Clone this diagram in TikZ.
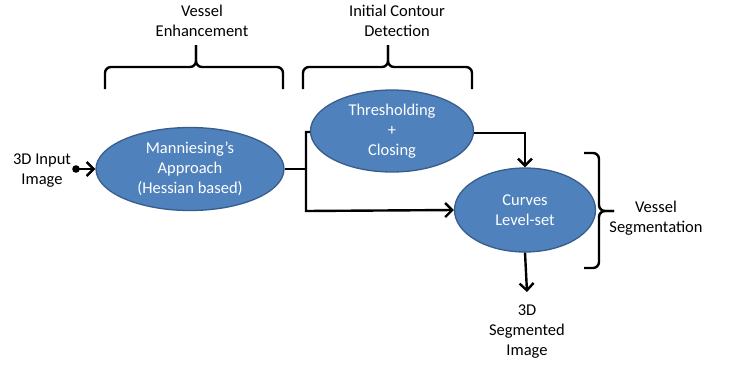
\documentclass[tikz,border=0pt]{standalone}
\usepackage{fontspec}
\setmainfont{Carlito}
\usetikzlibrary{shapes.geometric,arrows.meta}
\definecolor{ellfill}{HTML}{4F81BD}
\definecolor{elldraw}{HTML}{385D8A}
\tikzset{
  ell/.style={ellipse, fill=ellfill, draw=elldraw, line width=1.3pt, inner sep=0pt,
    text=white, align=center, font=\fontsize{16.5}{20}\selectfont},
  lbl/.style={align=center, font=\fontsize{16.5}{20}\selectfont, inner sep=0pt},
  conn/.style={line width=2.4pt, black},
  arr/.style={conn, -{Straight Barb[length=7pt,width=14pt,line width=2.4pt]}},
  brc/.style={line width=2.4pt, rounded corners=6pt},
}
\begin{document}
\begin{tikzpicture}[x=1pt,y=-1pt]
\useasboundingbox (0,0) rectangle (730,367);
% ellipses
\node[ell, minimum width=188pt, minimum height=83pt] (e1) at (190,169) {Manniesing’s\\Approach\\(Hessian based)};
\node[ell, minimum width=163pt, minimum height=82pt] (e2) at (392,131) {Thresholding\\+\\Closing};
\node[ell, minimum width=141pt, minimum height=84pt] (e3) at (525,210) {Curves\\Level-set};
% labels
\node[lbl] (in) at (42,171) {3D Input\\Image};
\node[lbl] (out) at (527,332) {3D\\Segmented\\Image};
\node[lbl] (ve) at (202,21) {Vessel\\Enhancement};
\node[lbl] (icd) at (397,21) {Initial Contour\\Detection};
\node[lbl] (vs) at (656,218) {Vessel\\Segmentation};
% coordinates
\coordinate (dot) at (76,169);
\coordinate (ja) at (306,169);
\coordinate (jb) at (306,211);
\coordinate (outtop) at (527,292);
% connectors
\fill (dot) circle (3.8pt);
\draw[arr] (dot) -- (e1.west);
\draw[conn] (e1.east) -- (ja);
\draw[arr] ([yshift=-1pt]e2.west) -| (jb) -- (e3.west);
\draw[arr] ([yshift=-2pt]e2.east) -| (e3.north);
\draw[arr] (e3.south) -- (outtop);
% top braces
\draw[brc] (105,89) -- (105,67) -- (196,67) -- (196,45);
\draw[brc] (283,89) -- (283,67) -- (196,67) -- (196,45);
\draw[brc] (303,89) -- (303,67) -- (388,67) -- (388,45);
\draw[brc] (472,89) -- (472,67) -- (388,67) -- (388,45);
% right brace
\draw[brc] (584,153) -- (599,153) -- (599,211) -- (614,211);
\draw[brc] (584,268) -- (599,268) -- (599,211) -- (614,211);
\end{tikzpicture}
\end{document}
